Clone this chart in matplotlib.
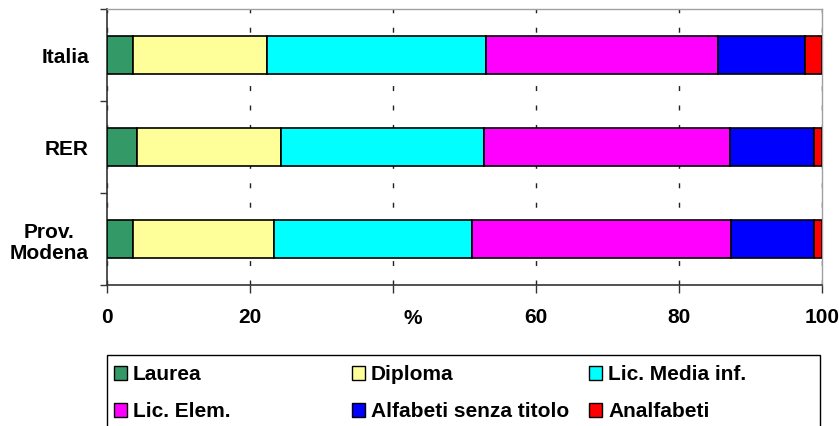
import matplotlib.pyplot as plt
import numpy as np
from matplotlib.patches import Rectangle

# bottom to top
regioni = ['Prov.\nModena', 'RER', 'Italia']
laurea = [3.7, 4.2, 3.7]
diploma = [19.7, 20.1, 18.7]
lic_media = [27.7, 28.4, 30.6]
lic_elem = [36.2, 34.5, 32.5]
alfabeti = [11.6, 11.7, 12.1]
analfabeti = [1.1, 1.1, 2.4]

etichette = ['Laurea', 'Diploma', 'Lic. Media inf.', 'Lic. Elem.',
             'Alfabeti senza titolo', 'Analfabeti']
colori = ['#339966', '#FFFF99', '#00FFFF', '#FF00FF', '#0000FF', '#FF0000']
serie = [laurea, diploma, lic_media, lic_elem, alfabeti, analfabeti]

xticks = [0, 20, 40, 60, 80, 100]
xticklabels = ['0', '20', '', '60', '80', '100']

plt.rcParams['font.family'] = ['Liberation Sans', 'DejaVu Sans']
plt.rcParams['font.weight'] = 'bold'
plt.rcParams['font.size'] = 15

W, H = 839, 427
fig = plt.figure(figsize=(W / 100, H / 100), dpi=100)
ax = fig.add_axes([107 / W, 1 - 286 / H, (822 - 107) / W, (286 - 10) / H])

y = np.arange(len(regioni))
left = np.zeros(len(regioni))
for vals, col, lab in zip(serie, colori, etichette):
    ax.barh(y, vals, left=left, height=0.41, color=col, edgecolor='black',
            linewidth=1.2, label=lab, zorder=3)
    left += np.array(vals)

ax.set_xlim(0, 100)
ax.set_ylim(-0.5, 2.5)
ax.set_xticks(xticks)
ax.set_xticklabels(xticklabels)
ax.set_yticks(y)
ax.set_yticklabels(regioni)
for t in ax.get_yticklabels():
    t.set_multialignment('center')
    t.set_linespacing(1.15)
ax.set_yticks([-0.5, 0.5, 1.5, 2.5], minor=True)
ax.tick_params(axis='y', which='major', length=0, pad=13)
ax.tick_params(axis='y', which='minor', length=5, width=1, direction='out', color='#333333')
ax.tick_params(axis='x', length=6, width=1, direction='out', pad=9.7, color='#333333')

ax.set_axisbelow(True)
ax.grid(axis='x', color='#222222', linestyle=(0, (3.6, 10.4)), linewidth=1)

for s in ['top', 'right']:
    ax.spines[s].set_color('#A0A0A0')
    ax.spines[s].set_linewidth(1)
for s in ['left', 'bottom']:
    ax.spines[s].set_color('#333333')
    ax.spines[s].set_linewidth(1.2)

ax.text(42.7, -(324 - 286) / 276, '%', transform=ax.get_xaxis_transform(),
        ha='center', va='baseline')

# legend box, laid out like the original (rows filled left to right)
fig.patches.append(Rectangle((107 / W, 1 - 440 / H), (820 - 107) / W, (440 - 356) / H,
                             transform=fig.transFigure, fill=False,
                             edgecolor='black', linewidth=1))
col_x = [114, 352, 589]
row_top = [367, 404]
row_base = [380, 417]
for i, (lab, col) in enumerate(zip(etichette, colori)):
    r, c = divmod(i, 3)
    x0 = col_x[c]
    fig.patches.append(Rectangle((x0 / W, 1 - (row_top[r] + 14) / H), 13 / W, 14 / H,
                                 transform=fig.transFigure, facecolor=col,
                                 edgecolor='black', linewidth=1))
    fig.text((x0 + 19) / W, 1 - row_base[r] / H, lab, ha='left', va='baseline')

fig.savefig('out.png', dpi=100)
